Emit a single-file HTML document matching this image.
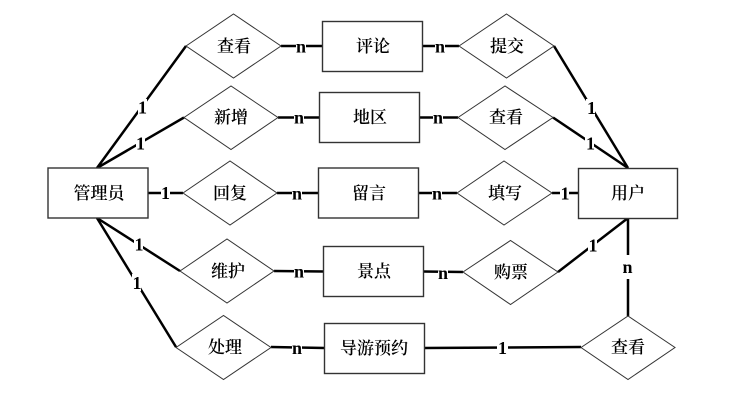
<!DOCTYPE html>
<html><head><meta charset="utf-8">
<style>
html,body{margin:0;padding:0;background:#fff;width:741px;height:400px;overflow:hidden}
svg{display:block}
.s{fill:#fff;stroke:#333;stroke-width:1}
.r{fill:#fff;stroke:#333;stroke-width:1.4}
.l{stroke:#000;stroke-width:2.5;fill:none}
.t{font-family:"Noto Serif CJK SC","Liberation Serif",serif;font-size:17px;fill:#000;text-anchor:middle;font-weight:600}
.n{font-family:"Liberation Serif",serif;font-size:18px;font-weight:bold;fill:#000;text-anchor:middle}
.b{fill:#fff}
</style></head><body>
<svg width="741" height="400" viewBox="0 0 741 400" xmlns="http://www.w3.org/2000/svg">
<g class="l">
<path d="M97 168L186 46M97 168L184 117.500M97 218L180 271M97 218L176 347"/>
<path d="M148 193L183 193M277 193L319 193M281 46L323 46M278 117.500L320 117.500M274 271L324 271.500M271 347L325 348"/>
<path d="M422 46L459 46M419.500 117.500L458 117.500M418.500 193L457 193M423 271.500L463 272M424 348L581 347"/>
<path d="M554 46L628 168M553 117.500L628 168M552 193L579 193M558 272L628 218M628 218L628 316"/>
</g>
<g class="r">
<rect x="322.500" y="21.500" width="100" height="50"/>
<rect x="319.500" y="92.500" width="100" height="50"/>
<rect x="318.500" y="168" width="100" height="50"/>
<rect x="323.500" y="246.500" width="100" height="50"/>
<rect x="324.500" y="323.500" width="100" height="50"/>
<rect x="48" y="168" width="100" height="50"/>
<rect x="578.500" y="168.500" width="99" height="50"/>
</g>
<g class="s">
<path d="M186 46L233.500 14L281 46L233.500 78Z"/>
<path d="M184 117.500L231 86L278 117.500L231 149.500Z"/>
<path d="M183 193L230 161L277 193L230 225Z"/>
<path d="M180 271L227 239L274 271L227 303Z"/>
<path d="M176 347.500L223.500 315.500L271 347.500L223.500 379.500Z"/>
<path d="M459 46L506.500 14L554 46L506.500 78Z"/>
<path d="M458 117.500L505 86L553 117.500L505 149.500Z"/>
<path d="M457 193L504 161L552 193L504 225Z"/>
<path d="M463 272L510.500 240.500L558 272L510.500 304.500Z"/>
<path d="M581 347.500L628 316L675 347.500L628 379.500Z"/>
</g>
<g class="t">
<text x="234" y="52">查看</text>
<text x="231" y="123">新增</text>
<text x="230" y="199">回复</text>
<text x="228" y="277">维护</text>
<text x="225" y="353">处理</text>
<text x="507" y="52">提交</text>
<text x="506" y="123">查看</text>
<text x="505" y="199">填写</text>
<text x="511" y="278">购票</text>
<text x="628" y="353">查看</text>
<text x="373" y="52">评论</text>
<text x="370" y="123">地区</text>
<text x="369" y="199">留言</text>
<text x="374" y="277">景点</text>
<text x="374" y="354">导游预约</text>
<text x="99" y="199">管理员</text>
<text x="628" y="199">用户</text>
</g>
<g class="b">
<rect x="296" y="38" width="10" height="16"/>
<rect x="294" y="109" width="10" height="16"/>
<rect x="292" y="185" width="10" height="16"/>
<rect x="294" y="263" width="10" height="16"/>
<rect x="292" y="339" width="10" height="16"/>
<rect x="435" y="38" width="10" height="16"/>
<rect x="433" y="109" width="10" height="16"/>
<rect x="432" y="185" width="10" height="16"/>
<rect x="438" y="264" width="10" height="16"/>
<rect x="623" y="255" width="10" height="24"/>
<rect x="138" y="99" width="9" height="17"/>
<rect x="136" y="135" width="9" height="17"/>
<rect x="161" y="185" width="9" height="16"/>
<rect x="134" y="237" width="9" height="17"/>
<rect x="132" y="274" width="9" height="17"/>
<rect x="586" y="99" width="9" height="17"/>
<rect x="585" y="135" width="9" height="17"/>
<rect x="560" y="185" width="9" height="16"/>
<rect x="588" y="237" width="9" height="17"/>
<rect x="497" y="339" width="11" height="17"/>
</g>
<g class="n">
<text x="301" y="52.500">n</text>
<text x="299" y="123.500">n</text>
<text x="297" y="199.500">n</text>
<text x="299" y="277.500">n</text>
<text x="297" y="354">n</text>
<text x="440" y="52.500">n</text>
<text x="438" y="123.500">n</text>
<text x="437" y="199.500">n</text>
<text x="443" y="279">n</text>
<text x="627.500" y="273">n</text>
<text x="142.500" y="113.500">1</text>
<text x="140.500" y="149.500">1</text>
<text x="165.500" y="199">1</text>
<text x="139" y="250.500">1</text>
<text x="137" y="289">1</text>
<text x="591.500" y="114">1</text>
<text x="590.500" y="149.500">1</text>
<text x="565" y="199.500">1</text>
<text x="593" y="251.500">1</text>
<text x="502.500" y="354">1</text>
</g>
</svg>
</body></html>
